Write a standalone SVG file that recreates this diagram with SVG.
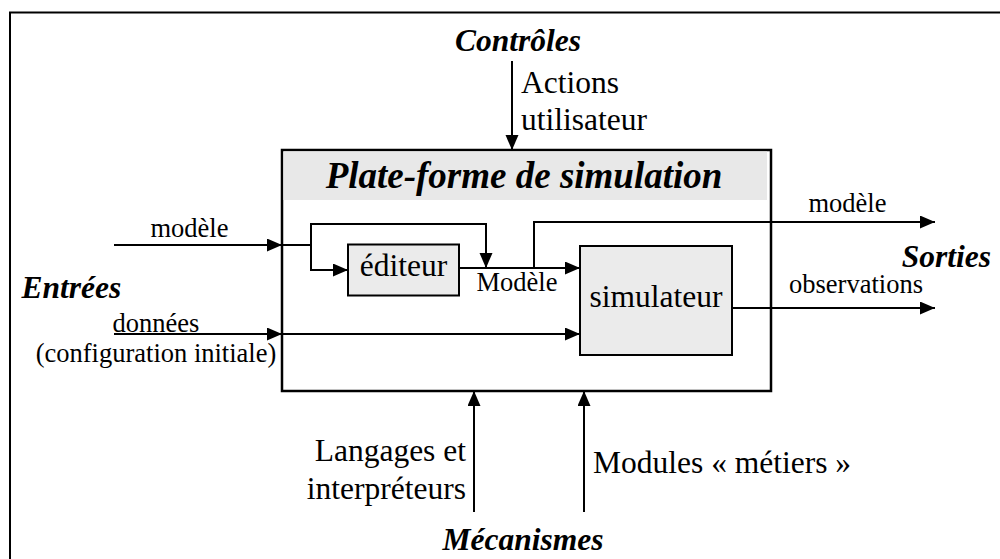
<svg xmlns="http://www.w3.org/2000/svg" width="1000" height="559" viewBox="0 0 1000 559">
<style>
text{font-family:'Liberation Serif','DejaVu Serif',serif;fill:#000}
.bi{font-weight:bold;font-style:italic;font-size:31.5px}
.big{font-size:31.5px}
.sm{font-size:26.5px}
.ttl{font-weight:bold;font-style:italic;font-size:37px}
.ln{fill:none;stroke:#000;stroke-width:2}
.box{fill:#ebebeb;stroke:#000;stroke-width:2}
</style>
<defs>
<marker id="arr" markerUnits="userSpaceOnUse" markerWidth="16" markerHeight="14" refX="15" refY="6.5" orient="auto">
<path d="M0,0 L15,6.5 L0,13 z" fill="#000"/>
</marker>
</defs>
<rect width="1000" height="559" fill="#fff"/>
<path d="M10,559 L10,12.5 L1000,12.5" fill="none" stroke="#000" stroke-width="2"/>

<g id="platform">
<rect x="282" y="150" width="489" height="241" fill="#fff" stroke="#000" stroke-width="2.5"/>
<rect x="283.5" y="151.5" width="483.5" height="48.5" fill="#e8e8e8"/>
<text x="524" y="188" class="ttl" font-family="Liberation Serif, DejaVu Serif, serif" text-anchor="middle">Plate-forme de simulation</text>
</g>

<g id="editor">
<rect x="348" y="244.5" width="111" height="51" class="box"/>
<text x="403.5" y="276" class="big" font-family="Liberation Serif, DejaVu Serif, serif" text-anchor="middle">éditeur</text>
</g>

<g id="simulator">
<rect x="580" y="246" width="152" height="109" class="box"/>
<text x="656" y="307" class="big" font-family="Liberation Serif, DejaVu Serif, serif" text-anchor="middle">simulateur</text>
</g>

<g id="connectors">
<path class="ln" d="M512,61 L512,150" marker-end="url(#arr)"/>
<path class="ln" d="M114,245 L282,245" marker-end="url(#arr)"/>
<path class="ln" d="M282,245 L311,245 L311,224 L486,224 L486,268" marker-end="url(#arr)"/>
<path class="ln" d="M311,245 L311,270 L348,270" marker-end="url(#arr)"/>
<path class="ln" d="M459,268 L580,268" marker-end="url(#arr)"/>
<path class="ln" d="M534,268 L534,222 L935,222" marker-end="url(#arr)"/>
<path class="ln" d="M114,334 L282,334" marker-end="url(#arr)"/>
<path class="ln" d="M282,334 L580,334" marker-end="url(#arr)"/>
<path class="ln" d="M732,308 L935,308" marker-end="url(#arr)"/>
<path class="ln" d="M474,512 L474,391" marker-end="url(#arr)"/>
<path class="ln" d="M584,512 L584,391" marker-end="url(#arr)"/>
</g>

<g id="labels" font-family="Liberation Serif, DejaVu Serif, serif">
<text x="518" y="51" class="bi" text-anchor="middle">Contrôles</text>
<text x="521" y="93" class="big">Actions</text>
<text x="521" y="130" class="big">utilisateur</text>
<text x="189.5" y="236.5" class="sm" text-anchor="middle">modèle</text>
<text x="21.5" y="298" class="bi">Entrées</text>
<text x="156" y="331.5" class="sm" text-anchor="middle">données</text>
<text x="156" y="361.5" class="sm" text-anchor="middle">(configuration initiale)</text>
<text x="517" y="291" class="sm" text-anchor="middle">Modèle</text>
<text x="847.5" y="211.5" class="sm" text-anchor="middle">modèle</text>
<text x="991" y="266.5" class="bi" text-anchor="end">Sorties</text>
<text x="856" y="292.5" class="sm" text-anchor="middle">observations</text>
<text x="466" y="461" class="big" text-anchor="end">Langages et</text>
<text x="466" y="498.5" class="big" text-anchor="end">interpréteurs</text>
<text x="593" y="472.5" class="big">Modules « métiers »</text>
<text x="523" y="550" class="bi" text-anchor="middle">Mécanismes</text>
</g>
</svg>
